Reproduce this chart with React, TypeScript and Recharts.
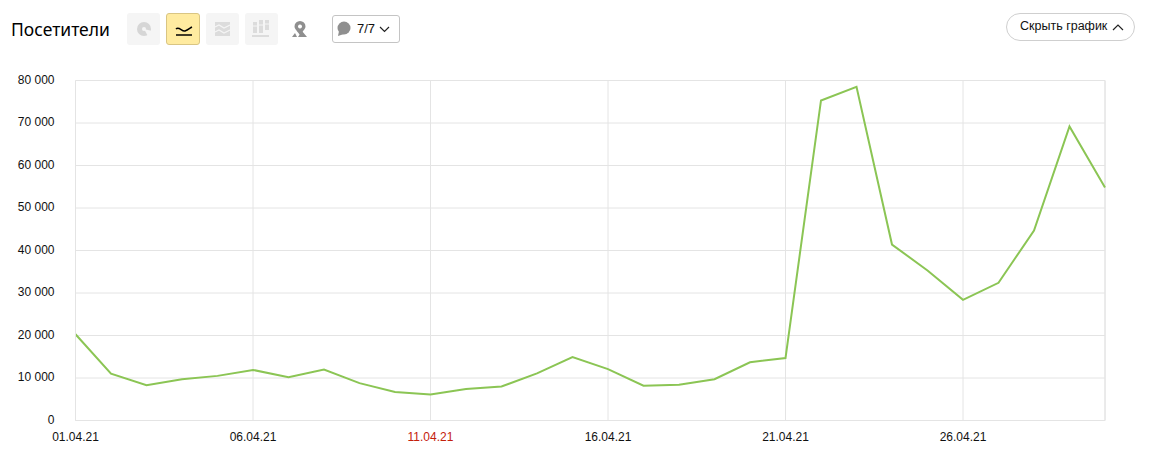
import { LineChart, Line, XAxis, YAxis, CartesianGrid, ReferenceLine } from "recharts";

const dates = [
  "01.04.21", "02.04.21", "03.04.21", "04.04.21", "05.04.21", "06.04.21",
  "07.04.21", "08.04.21", "09.04.21", "10.04.21", "11.04.21", "12.04.21",
  "13.04.21", "14.04.21", "15.04.21", "16.04.21", "17.04.21", "18.04.21",
  "19.04.21", "20.04.21", "21.04.21", "22.04.21", "23.04.21", "24.04.21",
  "25.04.21", "26.04.21", "27.04.21", "28.04.21", "29.04.21", "30.04.21",
];
const visitors = [
  20300, 11000, 8300, 9700, 10500, 11900, 10200, 12000, 8800, 6700,
  6100, 7400, 8000, 11100, 14900, 12100, 8200, 8400, 9700, 13700,
  14700, 75300, 78500, 41400, 35300, 28400, 32400, 44700, 69200, 54800,
];
const xTicks = ["01.04.21", "06.04.21", "11.04.21", "16.04.21", "21.04.21", "26.04.21"];
const yTicks = [0, 10000, 20000, 30000, 40000, 50000, 60000, 70000, 80000];
const holidayTicks = ["11.04.21"];

const chartData = dates.map((date, i) => ({ date, visitors: visitors[i] }));
const font = "Arial, 'Liberation Sans', sans-serif";

const formatY = (v: number) =>
  v === 0 ? "0" : `${Math.floor(v / 1000)} ${String(v % 1000).padStart(3, "0")}`;

const DateTick = ({ x, y, payload }: any) => (
  <text
    x={x}
    y={y}
    textAnchor="middle"
    fontSize={12}
    fontFamily={font}
    fill={holidayTicks.includes(payload.value) ? "#c4200c" : "#111"}
  >
    {payload.value}
  </text>
);

const ValueTick = ({ x, y, payload }: any) => (
  <text x={x} y={y - 1} dy="0.355em" textAnchor="end" fontSize={12} fontFamily={font} fill="#111">
    {formatY(payload.value)}
  </text>
);

const iconBox = (left: number, active: boolean, children: React.ReactNode, plain = false) => (
  <div
    style={{
      position: "absolute",
      left,
      top: 13,
      width: active ? 34 : 33,
      height: 32,
      boxSizing: "border-box",
      borderRadius: 3,
      background: plain ? "none" : active ? "#ffeba0" : "#f5f5f5",
      border: active ? "1px solid #d9c583" : "none",
    }}
  >
    <svg width={active ? 32 : 33} height={32} style={{ display: "block" }}>
      {children}
    </svg>
  </div>
);

const Header = () => (
  <>
    <div
      style={{
        position: "absolute",
        left: 11,
        top: 18,
        fontSize: 17.5,
        lineHeight: "22px",
        fontFamily: "'Noto Sans', Arial, sans-serif",
        color: "#000",
      }}
    >
      Посетители
    </div>
    {iconBox(127, false, (
      <>
        <circle cx={17} cy={16} r={7} fill="#d6d6d6" />
        <circle cx={17} cy={16} r={2} fill="#f5f5f5" />
        <path d="M17 16 L25 18 L22 25 Z" fill="#f5f5f5" />
      </>
    ))}
    {iconBox(166, true, (
      <>
        <path d="M9 15 C12 12 15 18 18 17 C21 16 23 14 25 13" fill="none" stroke="#000" strokeWidth={1.5} />
        <path d="M9 21 H25" stroke="#000" strokeWidth={1.5} />
      </>
    ))}
    {iconBox(206, false, (
      <>
        <rect x={9} y={9} width={15} height={14} fill="#dcdcdc" />
        <path d="M9 14 L13 12 L18 15 L24 12" fill="none" stroke="#f5f5f5" strokeWidth={1.2} />
        <path d="M9 19 L13 17 L18 20 L24 17" fill="none" stroke="#f5f5f5" strokeWidth={1.2} />
      </>
    ))}
    {iconBox(245, false, (
      <>
        <rect x={8} y={9} width={4} height={11} fill="#dcdcdc" />
        <rect x={14} y={7} width={4} height={13} fill="#dcdcdc" />
        <rect x={20} y={7} width={4} height={10} fill="#dcdcdc" />
        <path d="M8 13 H12 M14 12 H18 M20 11 H24" stroke="#f5f5f5" strokeWidth={1} />
        <rect x={7} y={22} width={17} height={2} fill="#dcdcdc" />
      </>
    ))}
    {iconBox(284, false, (
      <>
        <path
          d="M16 8 a5.5 5.5 0 0 1 5.5 5.5 c0 2.5 -3.5 5.5 -5.5 8.5 c-2 -3 -5.5 -6 -5.5 -8.5 a5.5 5.5 0 0 1 5.5 -5.5 Z M16 11.5 a2 2 0 1 0 0.01 0 Z"
          fill="#8f8f8f"
          fillRule="evenodd"
        />
        <path d="M11 20 L13 24 H8 Z M18 18 L23 24 H14 Z" fill="#8f8f8f" />
      </>
    ), true)}
    <div
      style={{
        position: "absolute",
        left: 332,
        top: 15,
        width: 68,
        height: 28,
        boxSizing: "border-box",
        border: "1px solid #c4c4c4",
        borderRadius: 3,
      }}
    >
      <svg width={20} height={20} style={{ position: "absolute", left: 2, top: 3 }}>
        <ellipse cx={9} cy={9} rx={6.5} ry={6.5} fill="#8f8f8f" />
        <path d="M4 12 L3 17 L9 15 Z" fill="#8f8f8f" />
      </svg>
      <span
        style={{
          position: "absolute",
          left: 24,
          top: 5,
          fontSize: 13,
          lineHeight: "15px",
          fontFamily: font,
          color: "#111",
        }}
      >
        7/7
      </span>
      <svg width={12} height={8} style={{ position: "absolute", left: 46, top: 10 }}>
        <path d="M1 1 L5.5 5.5 L10 1" fill="none" stroke="#222" strokeWidth={1.2} />
      </svg>
    </div>
    <div
      style={{
        position: "absolute",
        left: 1006,
        top: 13,
        width: 129,
        height: 28,
        boxSizing: "border-box",
        border: "1px solid #cfcfcf",
        borderRadius: 14,
      }}
    >
      <span
        style={{
          position: "absolute",
          left: 13,
          top: 5,
          fontSize: 12.5,
          lineHeight: "15px",
          fontFamily: font,
          color: "#111",
          whiteSpace: "nowrap",
        }}
      >
        Скрыть график
      </span>
      <svg width={14} height={8} style={{ position: "absolute", left: 105, top: 10 }}>
        <path d="M1 6 L6 1 L11 6" fill="none" stroke="#222" strokeWidth={1.2} />
      </svg>
    </div>
  </>
);

export default function App() {
  return (
    <div style={{ position: "absolute", left: 0, top: 0, width: 1150, height: 459, overflow: "hidden", background: "#fff" }}>
      <Header />
      <div style={{ position: "absolute", left: 0, top: 0 }}>
        <LineChart
          width={1150}
          height={459}
          data={chartData}
          margin={{ top: 80.5, right: 45, bottom: 0, left: 0 }}
        >
          <CartesianGrid stroke="#e4e4e4" />
          <XAxis
            dataKey="date"
            ticks={xTicks}
            interval={0}
            axisLine={{ stroke: "#e4e4e4" }}
            tickLine={false}
            tick={<DateTick />}
            tickMargin={14}
            height={38.5}
          />
          <YAxis
            width={75.5}
            domain={[0, 80000]}
            ticks={yTicks}
            axisLine={{ stroke: "#e4e4e4" }}
            tickLine={false}
            tick={<ValueTick />}
            tickMargin={15}
          />
          <ReferenceLine x="30.04.21" stroke="#e4e4e4" />
          <Line
            dataKey="visitors"
            type="linear"
            stroke="#8bc554"
            strokeWidth={2}
            dot={false}
            isAnimationActive={false}
          />
        </LineChart>
      </div>
    </div>
  );
}
